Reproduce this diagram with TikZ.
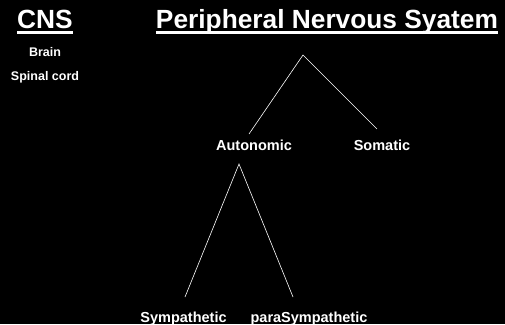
\documentclass[tikz,border=0pt]{standalone}
\usepackage{fontspec}
\setmainfont{Liberation Sans}
\begin{document}
\begin{tikzpicture}[x=1pt,y=-1pt,
  title/.style={text=white,font=\fontsize{26.3}{30}\selectfont\bfseries,inner sep=0pt,anchor=base},
  small/.style={text=white,font=\fontsize{12.5}{14}\selectfont\bfseries,inner sep=0pt,anchor=base},
  mid/.style={text=white,font=\fontsize{14.5}{16}\selectfont\bfseries,inner sep=0pt,anchor=base},
  uline/.style={draw=white,line width=2.4pt},
  link/.style={draw=white,line width=0.6pt}]
\fill[black] (0,0) rectangle (505,324);
\useasboundingbox (0,0) rectangle (505,324);
\node[title] (cns) at (45,28) {CNS};
\node[title] (pns) at (327,28) {Peripheral Nervous Syatem};
\draw[uline] ([yshift=-4.6pt]cns.base west) -- ([yshift=-4.6pt]cns.base east);
\draw[uline] ([yshift=-4.6pt]pns.base west) -- ([yshift=-4.6pt]pns.base east);
\node[small] (brain) at (45,56.5) {Brain};
\node[small] (spinal) at (45,80.5) {Spinal cord};
\coordinate (apex) at (303,55);
\node[mid] (auto) at (254,150) {Autonomic};
\node[mid] (soma) at (382,150) {Somatic};
\coordinate (apex2) at (239,164);
\node[mid] (symp) at (183.5,322) {Sympathetic};
\node[mid] (para) at (309,322) {paraSympathetic};
\coordinate (a1) at (249,134);
\coordinate (s1) at (377,129);
\coordinate (y1) at (185,297);
\coordinate (p1) at (293,297);
\draw[link] (a1) -- (apex) -- (s1);
\draw[link] (y1) -- (apex2) -- (p1);
\end{tikzpicture}
\end{document}
